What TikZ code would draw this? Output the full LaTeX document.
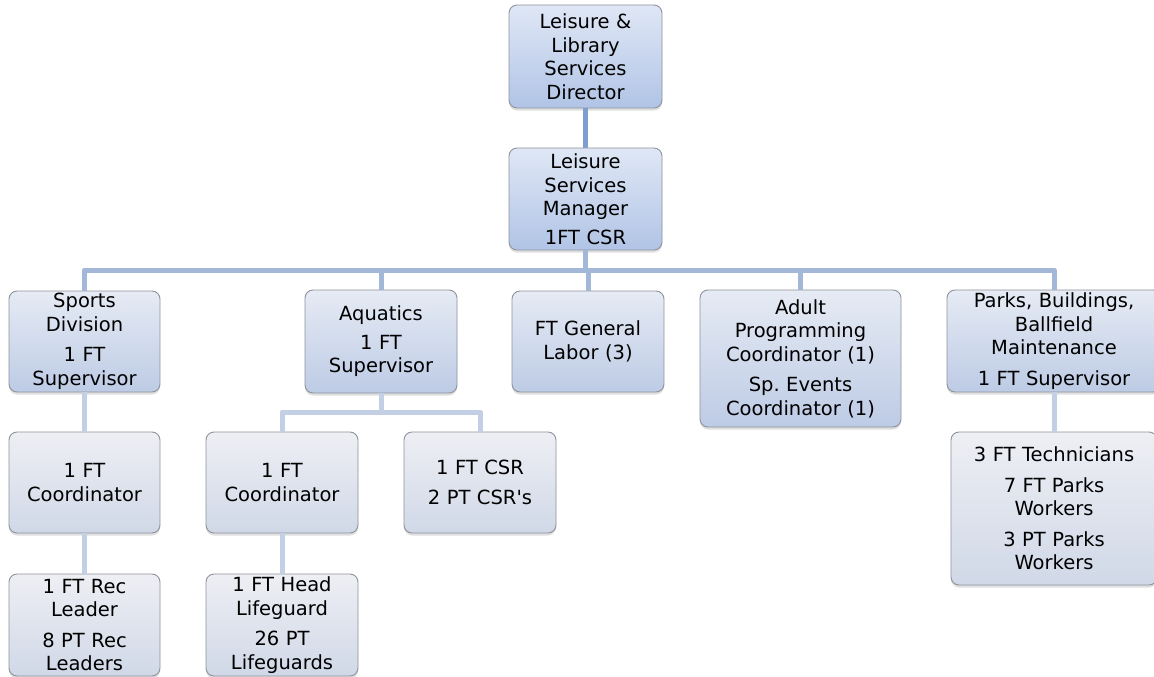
\documentclass[tikz,border=0pt]{standalone}
\usepackage{fontspec}
\setmainfont{DejaVu Sans}
\usetikzlibrary{shadows}
\frenchspacing

\definecolor{boxborder}{HTML}{8E939C}
\definecolor{topA}{HTML}{DFE7F5}
\definecolor{topB}{HTML}{B1C4E6}
\definecolor{midA}{HTML}{E6EBF4}
\definecolor{midB}{HTML}{BDCBE5}
\definecolor{lowA}{HTML}{EEEFF4}
\definecolor{lowB}{HTML}{D0D8E7}
\definecolor{lineA}{HTML}{7F9ED0}
\definecolor{lineB}{HTML}{A3B7D9}
\definecolor{lineC}{HTML}{C2CFE5}

\tikzset{
  orgbox/.style={draw=boxborder, line width=0.9pt, rounded corners=8pt,
    align=center, inner sep=0pt, font=\fontsize{19.5}{23.5}\selectfont,
    drop shadow={opacity=0.25, shadow xshift=0pt, shadow yshift=-2.5pt}},
  lvltop/.style={orgbox, top color=topA, bottom color=topB},
  lvlmid/.style={orgbox, top color=midA, bottom color=midB},
  lvllow/.style={orgbox, top color=lowA, bottom color=lowB},
  sz/.style n args={2}{minimum width=#1pt, minimum height=#2pt, text width=#1pt-6pt},
  headline/.style={draw=lineA, line width=5pt},
  busline/.style={draw=lineB, line width=5pt},
  subline/.style={draw=lineC, line width=5pt},
}

\begin{document}
\begin{tikzpicture}[x=1pt, y=-1pt]
  \useasboundingbox (0,0) rectangle (1154,677);
  \fill[white] (0,0) rectangle (1154,677);
  \clip (0,0) rectangle (1154,677);

  % management
  \node[lvltop, sz={153}{103}] (dir) at (585.5,56.5)
    {Leisure \&\\Library\\Services\\Director};
  \node[lvltop, sz={153}{102}] (mgr) at (585.5,199)
    {Leisure\\Services\\Manager\\[5pt]1FT CSR};

  % divisions
  \node[lvlmid, sz={151}{101}] (sports) at (84.5,341.5)
    {Sports\\Division\\[7pt]1 FT\\Supervisor};
  \node[lvlmid, sz={152}{103}] (aqua) at (381,341.5)
    {Aquatics\\[5pt]1 FT\\Supervisor};
  \node[lvlmid, sz={152}{101}] (labor) at (588,341.5)
    {FT General\\Labor (3)};
  \node[lvlmid, sz={201}{137}] (adult) at (800.5,358.5)
    {Adult\\Programming\\Coordinator (1)\\[7pt]Sp. Events\\Coordinator (1)};
  \node[lvlmid, sz={214}{102}] (parks) at (1054,341)
    {Parks, Buildings,\\Ballfield\\Maintenance\\[7pt]1 FT Supervisor};

  % staff
  \node[lvllow, sz={151}{101}] (sc) at (84.5,482.5) {1 FT\\Coordinator};
  \node[lvllow, sz={152}{101}] (ac) at (282,482.5) {1 FT\\Coordinator};
  \node[lvllow, sz={152}{101}] (csr) at (480,482.5)
    {1 FT CSR\\[7pt]2 PT CSR\textquotesingle s};
  \node[lvllow, sz={206}{153}] (pw) at (1054,508.5)
    {3 FT Technicians\\[7pt]7 FT Parks\\Workers\\[7pt]3 PT Parks\\Workers};
  \node[lvllow, sz={151}{102}] (rl) at (84.5,625)
    {1 FT Rec\\Leader\\[7pt]8 PT Rec\\Leaders};
  \node[lvllow, sz={152}{102}] (hl) at (282,625)
    {1 FT Head\\Lifeguard\\[7pt]26 PT\\Lifeguards};

  \coordinate (bus) at (0,270);
  \coordinate (split) at (0,412);

  % connectors
  \draw[headline] (dir) -- (mgr);
  \draw[busline] (mgr.south) -- (mgr.south |- bus);
  \draw[busline, line join=round] (sports.north) |- (parks.north |- bus) -- (parks.north);
  \draw[busline] (aqua.north) -- (aqua.north |- bus);
  \draw[busline] (labor.north) -- (labor.north |- bus);
  \draw[busline] (adult.north) -- (adult.north |- bus);

  \draw[subline] (sports) -- (sc);
  \draw[subline] (sc) -- (rl);
  \draw[subline] (aqua.south) -- (aqua.south |- split);
  \draw[subline, line join=round] (ac.north) |- (csr.north |- split) -- (csr.north);
  \draw[subline] (ac) -- (hl);
  \draw[subline] (parks) -- (pw);
\end{tikzpicture}
\end{document}
